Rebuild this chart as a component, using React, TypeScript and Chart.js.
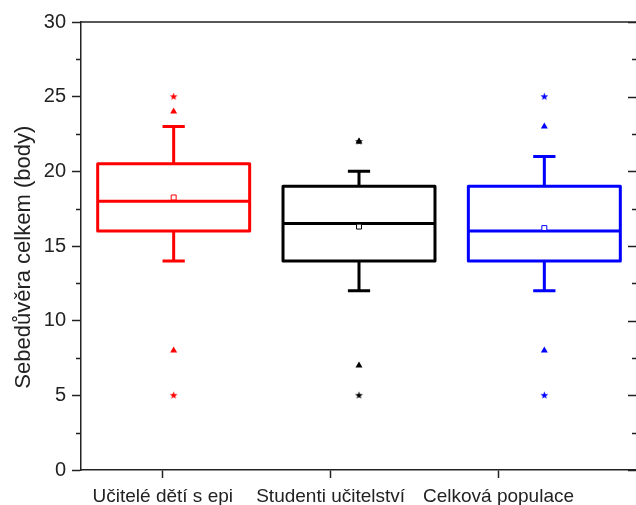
import React, { useEffect, useRef } from "react";
import { Chart, registerables } from "chart.js";

Chart.register(...registerables);

const categories = ["Učitelé dětí s epi", "Studenti učitelství", "Celková populace"];
const colors = ["#ff0000", "#000000", "#0000ff"];
const whiskerLow = [14, 12, 12];
const q1 = [16, 14, 14];
const median = [18, 16.5, 16];
const q3 = [20.5, 19, 19];
const whiskerHigh = [23, 20, 21];
const means = [18.25, 16.3, 16.2];
const starOutliers = [[25, 5], [22, 5], [25, 5]];
const triangleOutliers = [[24, 8], [22, 7], [23, 8]];
const yTicks = [0, 5, 10, 15, 20, 25, 30];
const yMinorTicks = [2.5, 7.5, 12.5, 17.5, 22.5, 27.5];
const yTitle = "Sebedůvěra celkem (body)";
const yTitleCenterValue = 14.25;

const FONT = "Arial, 'Liberation Sans', sans-serif";
const BOX_WIDTH = 0.82; // in x units
const CAP_WIDTH = 0.12;

function makeStar(color: string) {
  const c = document.createElement("canvas");
  c.width = 9;
  c.height = 9;
  const ctx = c.getContext("2d")!;
  ctx.fillStyle = color;
  ctx.beginPath();
  for (let i = 0; i < 10; i++) {
    const r = i % 2 === 0 ? 4 : 1.7;
    const a = -Math.PI / 2 + (i * Math.PI) / 5;
    const x = 4.5 + r * Math.cos(a);
    const y = 4.6 + r * Math.sin(a);
    if (i === 0) ctx.moveTo(x, y);
    else ctx.lineTo(x, y);
  }
  ctx.closePath();
  ctx.fill();
  return c;
}

const boxPlugin = {
  id: "boxPlugin",
  beforeDatasetsDraw(chart: any) {
    const ctx = chart.ctx;
    const xs = chart.scales.x;
    const ys = chart.scales.y;
    ctx.save();
    ctx.lineWidth = 3;
    ctx.lineJoin = "round";
    categories.forEach((_, i) => {
      const xc = xs.getPixelForValue(i + 1);
      const xl = xs.getPixelForValue(i + 1 - BOX_WIDTH / 2);
      const xr = xs.getPixelForValue(i + 1 + BOX_WIDTH / 2);
      const cl = xs.getPixelForValue(i + 1 - CAP_WIDTH / 2);
      const cr = xs.getPixelForValue(i + 1 + CAP_WIDTH / 2);
      const yq1 = ys.getPixelForValue(q1[i]);
      const yq3 = ys.getPixelForValue(q3[i]);
      const ym = ys.getPixelForValue(median[i]);
      const ylo = ys.getPixelForValue(whiskerLow[i]);
      const yhi = ys.getPixelForValue(whiskerHigh[i]);
      ctx.strokeStyle = colors[i];
      ctx.beginPath();
      ctx.rect(xl, yq3, xr - xl, yq1 - yq3);
      ctx.moveTo(xl, ym);
      ctx.lineTo(xr, ym);
      ctx.moveTo(xc, yq3);
      ctx.lineTo(xc, yhi);
      ctx.moveTo(cl, yhi);
      ctx.lineTo(cr, yhi);
      ctx.moveTo(xc, yq1);
      ctx.lineTo(xc, ylo);
      ctx.moveTo(cl, ylo);
      ctx.lineTo(cr, ylo);
      ctx.stroke();
    });
    ctx.restore();
  },
  afterDraw(chart: any) {
    const ctx = chart.ctx;
    const ys = chart.scales.y;
    const { left, right, top } = chart.chartArea;
    ctx.save();
    ctx.strokeStyle = "#222";
    ctx.lineWidth = 1.5;
    ctx.beginPath();
    ctx.moveTo(left, top);
    ctx.lineTo(right, top);
    ctx.moveTo(right, top);
    ctx.lineTo(right, chart.chartArea.bottom);
    yTicks.forEach((v) => {
      const y = Math.round(ys.getPixelForValue(v)) + 0.5;
      ctx.moveTo(right, y);
      ctx.lineTo(right - 9, y);
    });
    yMinorTicks.forEach((v) => {
      const y = Math.round(ys.getPixelForValue(v)) + 0.5;
      ctx.moveTo(right, y);
      ctx.lineTo(right - 5, y);
      ctx.moveTo(left, y);
      ctx.lineTo(left - 5, y);
    });
    ctx.stroke();
    // y axis title
    ctx.translate(24, ys.getPixelForValue(yTitleCenterValue));
    ctx.rotate(-Math.PI / 2);
    ctx.fillStyle = "#222";
    ctx.font = `22px ${FONT}`;
    ctx.textAlign = "center";
    ctx.textBaseline = "middle";
    ctx.fillText(yTitle, 0, 0);
    ctx.restore();
  },
};

export default function App() {
  const ref = useRef<HTMLCanvasElement>(null);
  useEffect(() => {
    const stars = colors.map((c) => makeStar(c));
    const datasets: any[] = [];
    categories.forEach((_, i) => {
      datasets.push({
        type: "scatter",
        data: [{ x: i + 1, y: means[i] }],
        pointStyle: "rect",
        radius: 3.5,
        backgroundColor: "#ffffff",
        borderColor: colors[i],
        borderWidth: 1,
        xAxisID: "x",
        yAxisID: "y",
      });
      datasets.push({
        type: "scatter",
        data: triangleOutliers[i].map((v) => ({ x: i + 1, y: v })),
        pointStyle: "triangle",
        radius: 4,
        backgroundColor: colors[i],
        borderColor: colors[i],
        borderWidth: 0,
        xAxisID: "x",
        yAxisID: "y",
      });
      datasets.push({
        type: "scatter",
        data: starOutliers[i].map((v) => ({ x: i + 1, y: v })),
        pointStyle: stars[i],
        radius: 4,
        xAxisID: "x",
        yAxisID: "y",
      });
    });
    const chart = new Chart(ref.current!, {
      type: "scatter",
      data: { datasets },
      plugins: [boxPlugin],
      options: {
        animation: false,
        responsive: false,
        events: [],
        layout: { padding: { top: 22, right: 4, left: 0, bottom: 0 } },
        plugins: { legend: { display: false }, tooltip: { enabled: false } },
        scales: {
          x: {
            type: "linear",
            display: false,
            min: 0.5,
            max: 3.5,
          },
          xl: {
            type: "linear",
            position: "bottom",
            min: 0.513,
            max: 3.825,
            afterBuildTicks: (axis: any) => {
              axis.ticks = categories.map((_, i) => ({ value: i + 1 }));
            },
            afterFit: (axis: any) => {
              axis.height = 35;
            },
            ticks: {
              callback: (v: any) => categories[Math.round(v) - 1] ?? "",
              font: { family: FONT, size: 19 },
              color: "#222",
              padding: 7,
              maxRotation: 0,
              autoSkip: false,
            },
            grid: {
              drawOnChartArea: false,
              tickLength: 8,
              tickWidth: 1.5,
              tickColor: "#222",
            },
            border: { display: true, color: "#222", width: 1.5 },
          },
          y: {
            type: "linear",
            position: "left",
            min: 0,
            max: 30,
            afterBuildTicks: (axis: any) => {
              axis.ticks = yTicks.map((v) => ({ value: v }));
            },
            afterFit: (axis: any) => {
              axis.width = 81;
            },
            ticks: {
              font: { family: FONT, size: 20 },
              color: "#222",
              padding: 6,
            },
            grid: {
              drawOnChartArea: false,
              tickLength: 9,
              tickWidth: 1.5,
              tickColor: "#222",
            },
            border: { display: true, color: "#222", width: 1.5 },
          },
        },
      },
    } as any);
    return () => chart.destroy();
  }, []);
  return (
    <div
      style={{
        position: "fixed",
        left: 0,
        top: 0,
        width: 636,
        height: 505,
        overflow: "hidden",
        background: "#fff",
      }}
    >
      <canvas ref={ref} width={642} height={505} style={{ display: "block" }} />
    </div>
  );
}
